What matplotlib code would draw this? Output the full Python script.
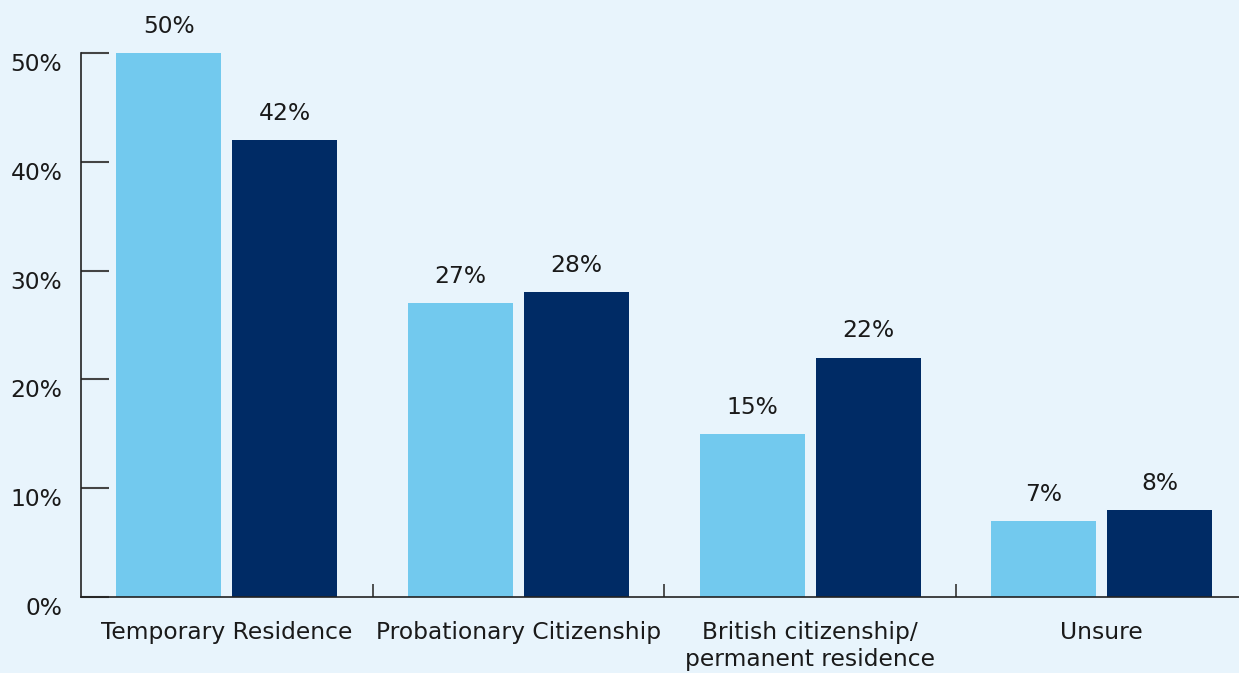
import matplotlib
matplotlib.use("Agg")
import matplotlib.pyplot as plt
import matplotlib.transforms as mtrans
import numpy as np

categories = ["Temporary Residence", "Probationary Citizenship",
              "British citizenship/\npermanent residence", "Unsure"]
series_a = [50, 27, 15, 7]
series_b = [42, 28, 22, 8]
yticks = [0, 10, 20, 30, 40, 50]
ytick_labels = ["0%", "10%", "20%", "30%", "40%", "50%"]

BG = "#E8F4FC"
LIGHT = "#72C9EE"
DARK = "#002B65"
TXT = "#1a1a1a"

plt.rcParams['font.family'] = ['DejaVu Sans']

fig = plt.figure(figsize=(12.39, 6.73), dpi=100)
fig.patch.set_facecolor(BG)
W, H = 1239, 673
left_px, right_px, top_px, bot_px = 81, 1247.6, 53, 597
ax = fig.add_axes([left_px / W, 1 - bot_px / H, (right_px - left_px) / W, (bot_px - top_px) / H])
ax.set_facecolor(BG)

x = np.arange(len(categories))
bw = 0.36
off = 0.199
b1 = ax.bar(x - off, series_a, width=bw, color=LIGHT, zorder=2)
b2 = ax.bar(x + off, series_b, width=bw, color=DARK, zorder=2)

for bars, vals in ((b1, series_a), (b2, series_b)):
    for r, v in zip(bars, vals):
        ax.annotate(f"{v}%", (r.get_x() + r.get_width() / 2, v),
                    xytext=(0, 11), textcoords="offset points",
                    ha="center", va="bottom", fontsize=16.8, color=TXT,
                    annotation_clip=False)

ax.set_xlim(-0.5, 3.5)
ax.set_ylim(0, 50)

for s in ("top", "right"):
    ax.spines[s].set_visible(False)
for s in ("left", "bottom"):
    ax.spines[s].set_color("#222222")
    ax.spines[s].set_linewidth(1.2)

ax.set_yticks(yticks)
ax.set_yticklabels(ytick_labels)
ax.tick_params(axis="y", direction="in", length=20, width=1.5, color="#444444",
               pad=13.5, labelsize=16.8, labelcolor=TXT)
offset = mtrans.ScaledTranslation(0, -9 / 100, fig.dpi_scale_trans)
for lab in ax.get_yticklabels():
    lab.set_transform(lab.get_transform() + offset)

ax.set_xticks(x)
ax.set_xticklabels(categories, fontsize=16.8, color=TXT, linespacing=1.25)
ax.set_xticks([0.5, 1.5, 2.5], minor=True)
ax.tick_params(axis="x", which="major", length=0, pad=17)
ax.tick_params(axis="x", which="minor", direction="in", length=9.4, width=1.2, color="#333333")

fig.savefig("out.png", dpi=100, facecolor=BG)
